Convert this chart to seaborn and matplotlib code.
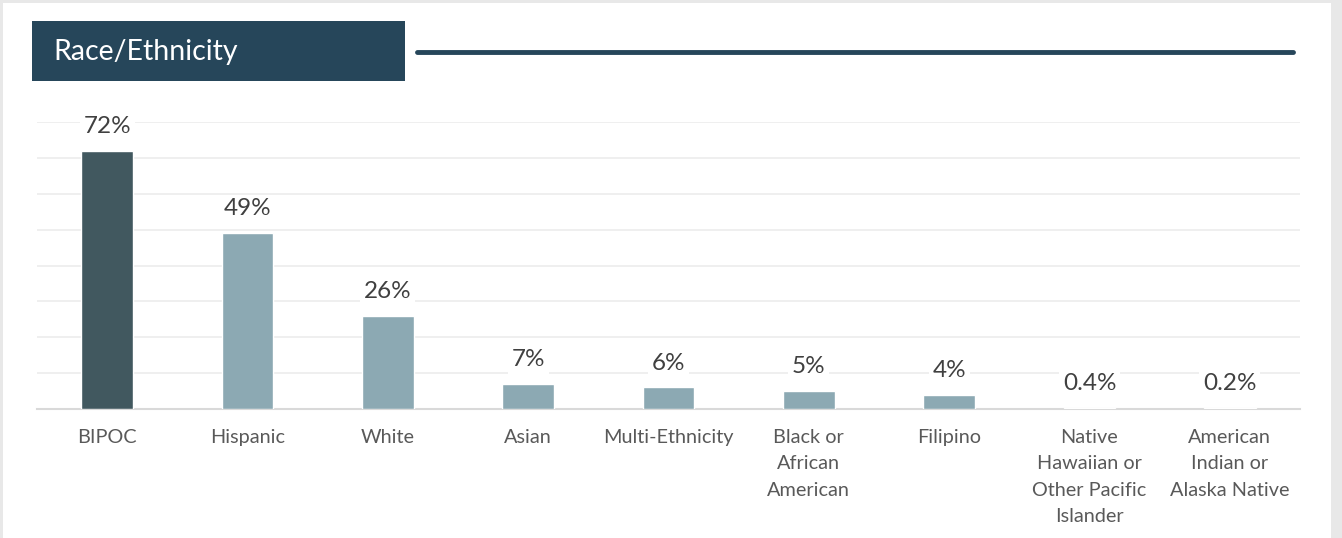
import matplotlib.pyplot as plt
import matplotlib.patches as mpatches
import seaborn as sns
import pandas as pd

categories = ['BIPOC', 'Hispanic', 'White', 'Asian', 'Multi-Ethnicity',
              'Black or\nAfrican\nAmerican', 'Filipino',
              'Native\nHawaiian or\nOther Pacific\nIslander',
              'American\nIndian or\nAlaska Native']
values = [72, 49, 26, 7, 6, 5, 4, 0.4, 0.2]
value_labels = ['72%', '49%', '26%', '7%', '6%', '5%', '4%', '0.4%', '0.2%']
bar_colors = ['#41585f'] + ['#8ca9b3'] * 8

df = pd.DataFrame({'group': categories, 'pct': values})

sns.set_style('white')
plt.rcParams['font.family'] = ['Lato', 'DejaVu Sans']

W, H = 1342, 538
fig = plt.figure(figsize=(W / 100, H / 100), dpi=100, facecolor='#e8e8e8')

# white card behind everything
fig.patches.append(mpatches.Rectangle((3 / W, 0), 1328 / W, 535 / H,
                                      transform=fig.transFigure,
                                      facecolor='white', edgecolor='none', zorder=-5))

# title box and rule
fig.patches.append(mpatches.Rectangle((32 / W, 1 - 81 / H), 373 / W, 60 / H,
                                      transform=fig.transFigure,
                                      facecolor='#26465a', edgecolor='none', zorder=1))
fig.text(53 / W, 1 - 52 / H, 'Race/Ethnicity', color='white', fontsize=20.5,
         va='center', ha='left', zorder=2)
fig.lines.append(plt.Line2D([417 / W, 1293 / W], [1 - 52 / H, 1 - 52 / H],
                            transform=fig.transFigure, color='#26465a', lw=3.5))

ax = fig.add_axes([37 / W, 1 - 409 / H, 1263 / W, 287 / H])
ax.set_facecolor('none')
ax.set_zorder(3)
sns.barplot(data=df, x='group', y='pct', hue='group', palette=bar_colors,
            saturation=1, legend=False, width=0.37, ax=ax, zorder=3)

ax.set_ylim(0, 80)
ax.set_xlim(-0.5, len(categories) - 0.5)
ax.set_yticks(range(0, 81, 10))
ax.yaxis.grid(True, color='#ececec', lw=1.2, zorder=0)
ax.set_axisbelow(True)
ax.tick_params(axis='y', left=False, labelleft=False)
ax.tick_params(axis='x', bottom=False, pad=11, labelsize=14.3, labelcolor='#595959')
for lbl in ax.get_xticklabels():
    lbl.set_linespacing(1.66)
for side in ['top', 'left', 'right']:
    ax.spines[side].set_visible(False)
ax.spines['bottom'].set_color('#d9d9d9')
ax.spines['bottom'].set_linewidth(1.5)
ax.set_xlabel('')
ax.set_ylabel('')

for i, (v, t) in enumerate(zip(values, value_labels)):
    ax.annotate(t, (i, v), xytext=(0, 10), textcoords='offset points',
                ha='center', va='bottom', fontsize=17.5, color='#404040',
                bbox=dict(boxstyle='square,pad=0.15', fc='white', ec='none'),
                zorder=4)

fig.savefig('out.png', dpi=100, facecolor=fig.get_facecolor())
